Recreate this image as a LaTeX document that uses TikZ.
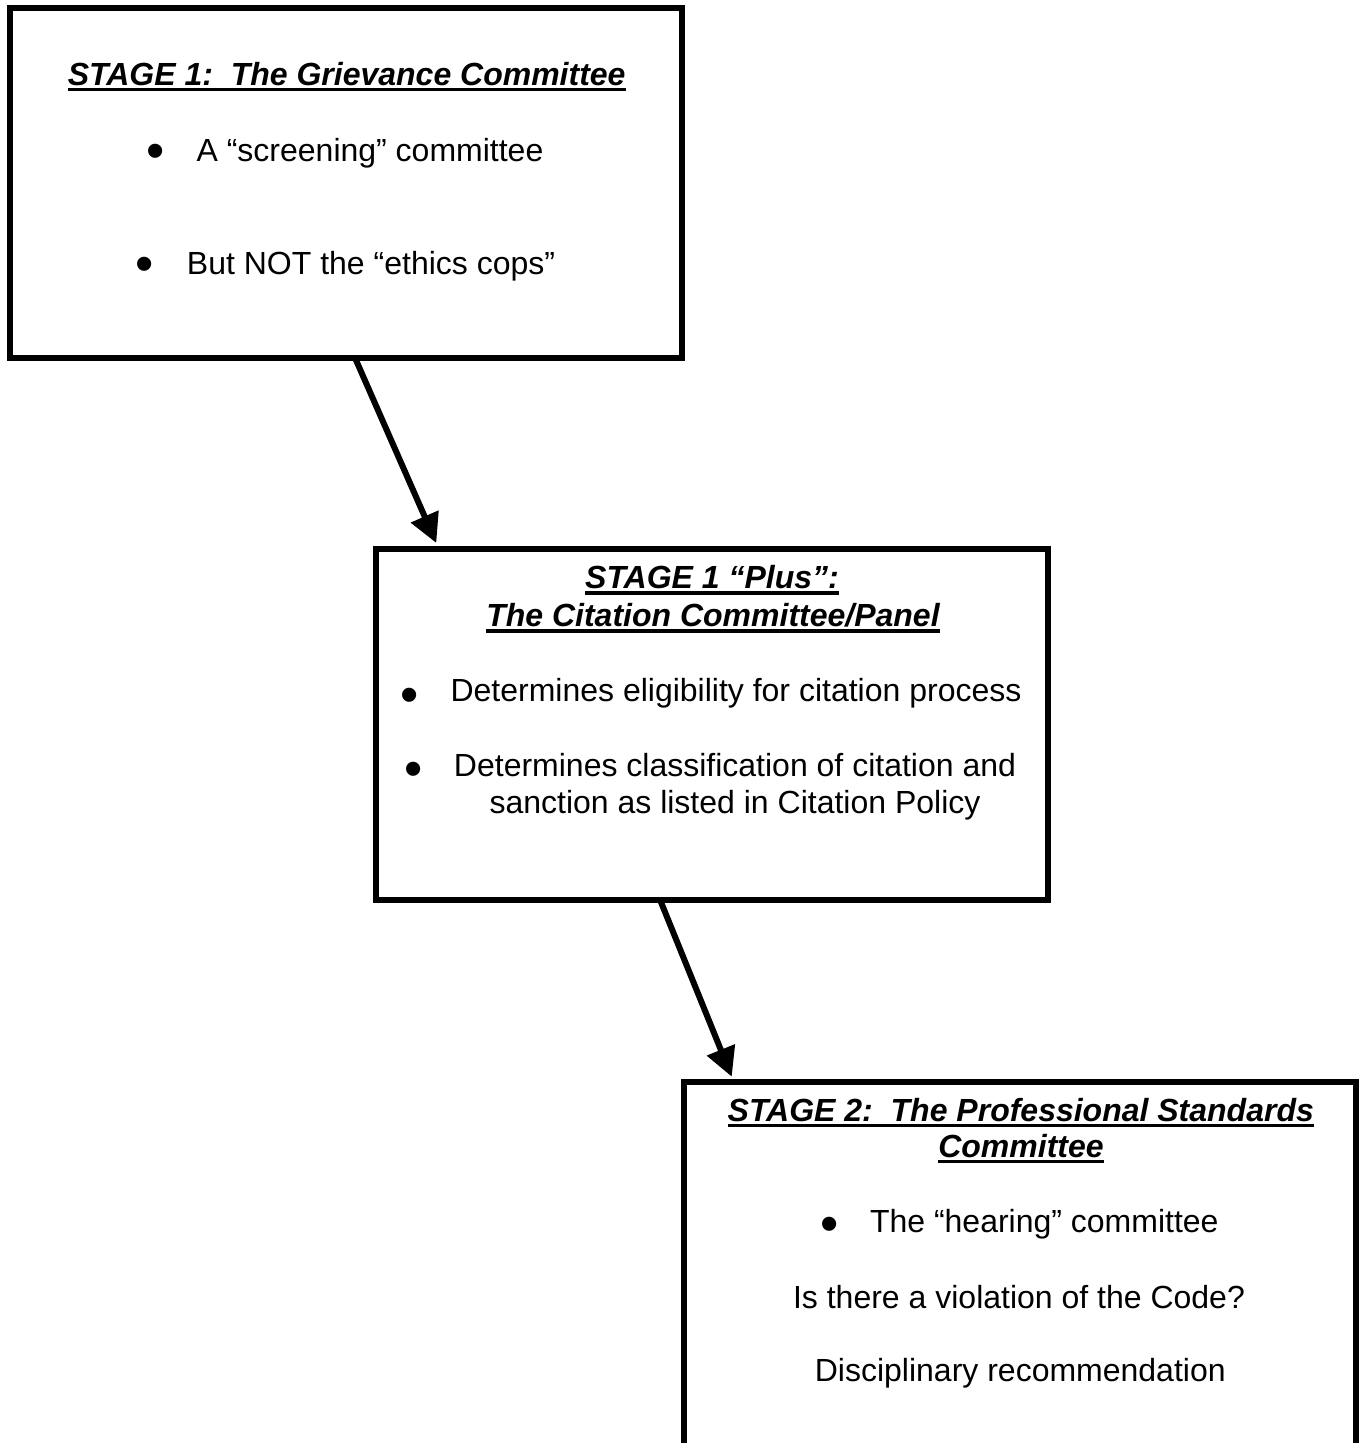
\documentclass[tikz,border=0pt]{standalone}
\usepackage{fontspec}
\setmainfont{Liberation Sans}
\usetikzlibrary{arrows.meta}
\frenchspacing
\newcommand\ulbox[1]{\setbox0=\hbox{#1}\rlap{\rule[-6pt]{\wd0}{3.5pt}}\box0}
\begin{document}
\begin{tikzpicture}[x=1pt,y=-1pt,
  frame/.style={draw=black,line width=6pt,inner sep=0pt,outer sep=0pt},
  txt/.style={inner sep=0pt,anchor=base,font=\fontsize{32}{38}\selectfont},
  ttl/.style={inner sep=0pt,anchor=base,font=\fontsize{32}{38}\selectfont\bfseries\itshape},
  dotmark/.style={inner sep=0pt,font=\fontsize{52}{52}\selectfont},
  link/.style={line width=6pt,-{Triangle[length=29pt,width=29pt]}}]
\useasboundingbox (0,0) rectangle (1362,1443);
\fill[white] (0,0) rectangle (1362,1443);
\clip (0,0) rectangle (1362,1443);
% boxes
\node[frame,minimum width=671.7pt,minimum height=350.1pt] (b1) at (346.2,182.75) {};
\node[frame,minimum width=672pt,minimum height=350.7pt] (b2) at (712,724.35) {};
\node[frame,minimum width=671.5pt,minimum height=418.5pt] (b3) at (1019.75,1290.75) {};
% box 1
\node[ttl] (t1) at (346.7,85) {\ulbox{STAGE 1:\ \ The Grievance Committee}};
\node[dotmark] (d11) at (156,156) {•};
\node[txt] (l11) at (370,161) {A “screening” committee};
\node[dotmark] (d12) at (145,269.3) {•};
\node[txt] (l12) at (371,274.3) {But NOT the “ethics cops”};
% box 2
\node[ttl] (t2a) at (712,588.7) {\ulbox{STAGE 1 “Plus”:}};
\node[ttl] (t2b) at (713,626.7) {\ulbox{The Citation Committee/Panel}};
\node[dotmark] (d21) at (410,700) {•};
\node[txt] (l21) at (736,701.7) {Determines eligibility for citation process};
\node[dotmark] (d22) at (414,774.3) {•};
\node[txt] (l22) at (735,776.7) {Determines classification of citation and};
\node[txt] (l23) at (735,813.7) {sanction as listed in Citation Policy};
% box 3
\node[ttl] (t3a) at (1020.8,1121) {\ulbox{STAGE 2:\ \ The Professional Standards}};
\node[ttl] (t3b) at (1021,1157.3) {\ulbox{Committee}};
\node[dotmark] (d31) at (829.3,1229) {•};
\node[txt] (l31) at (1044.3,1232.3) {The “hearing” committee};
\node[txt] (l32) at (1019,1308.3) {Is there a violation of the Code?};
\node[txt] (l33) at (1020.3,1381.7) {Disciplinary recommendation};
% connectors
\draw[link] ([xshift=8.8pt]b1.south) -- ([xshift=-275.7pt,yshift=6pt]b2.north);
\draw[link] ([xshift=-52pt]b2.south) -- ([xshift=-288pt,yshift=4.8pt]b3.north);
\end{tikzpicture}
\end{document}
